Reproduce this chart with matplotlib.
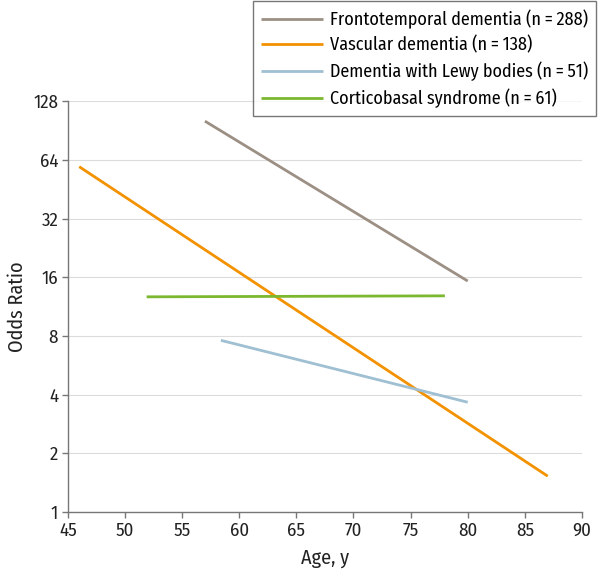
import matplotlib
matplotlib.use('Agg')
import matplotlib.pyplot as plt

# Data (age in years, odds ratio)
labels = ['Frontotemporal dementia (n\u2009=\u2009288)', 'Vascular dementia (n\u2009=\u2009138)',
          'Dementia with Lewy bodies (n\u2009=\u200951)', 'Corticobasal syndrome (n\u2009=\u200961)']
ftd_age = [57, 80]
ftd_or = [101, 15.3]
vasc_age = [46, 87]
vasc_or = [59, 1.53]
lewy_age = [58.4, 80]
lewy_or = [7.6, 3.66]
cbs_age = [51.9, 78]
cbs_or = [12.7, 12.85]
colors = ['#9c8f84', '#f39200', '#9fbfd2', '#7cb82f']

yticks = [1, 2, 4, 8, 16, 32, 64, 128]
xticks = [45, 50, 55, 60, 65, 70, 75, 80, 85, 90]

plt.rcParams['font.family'] = ['Fira Sans Condensed', 'DejaVu Sans']

fig = plt.figure(figsize=(6, 5.71), dpi=100)
ax = fig.add_axes([0.113, 0.103, 0.857, 0.72])

series = [(ftd_age, ftd_or), (vasc_age, vasc_or), (lewy_age, lewy_or), (cbs_age, cbs_or)]
lines = []
for (x, y), c, lab in zip(series, colors, labels):
    ln, = ax.plot(x, y, color=c, lw=2, label=lab, solid_capstyle='butt')
    lines.append(ln)

ax.set_yscale('log', base=2)
ax.set_ylim(1, 128)
ax.set_xlim(45, 90)
ax.set_yticks(yticks)
ax.set_yticklabels([str(v) for v in yticks])
ax.minorticks_off()
ax.set_xticks(xticks)
ax.yaxis.grid(True, color='#dcdcdc', lw=0.8)
ax.set_axisbelow(True)
for s in ['top', 'right']:
    ax.spines[s].set_visible(False)
for s in ['left', 'bottom']:
    ax.spines[s].set_color('#777777')
    ax.spines[s].set_linewidth(1)
ax.tick_params(axis='both', colors='#777777', labelcolor='#222222',
               labelsize=13.5, length=4, width=1, pad=3)
ax.set_xlabel('Age, y', fontsize=14.5, color='#222222', labelpad=6)
ax.set_ylabel('Odds Ratio', fontsize=14.5, color='#222222', labelpad=4)

leg = fig.legend(handles=lines, loc='upper right', bbox_to_anchor=(1.0, 1.004),
                 fontsize=13, frameon=True, fancybox=False, handlelength=3.4,
                 handletextpad=0.4, borderpad=0.45, labelspacing=0.4,
                 borderaxespad=0.2, edgecolor='#555555')
leg.get_frame().set_linewidth(1)

fig.savefig('out.png', dpi=100)
